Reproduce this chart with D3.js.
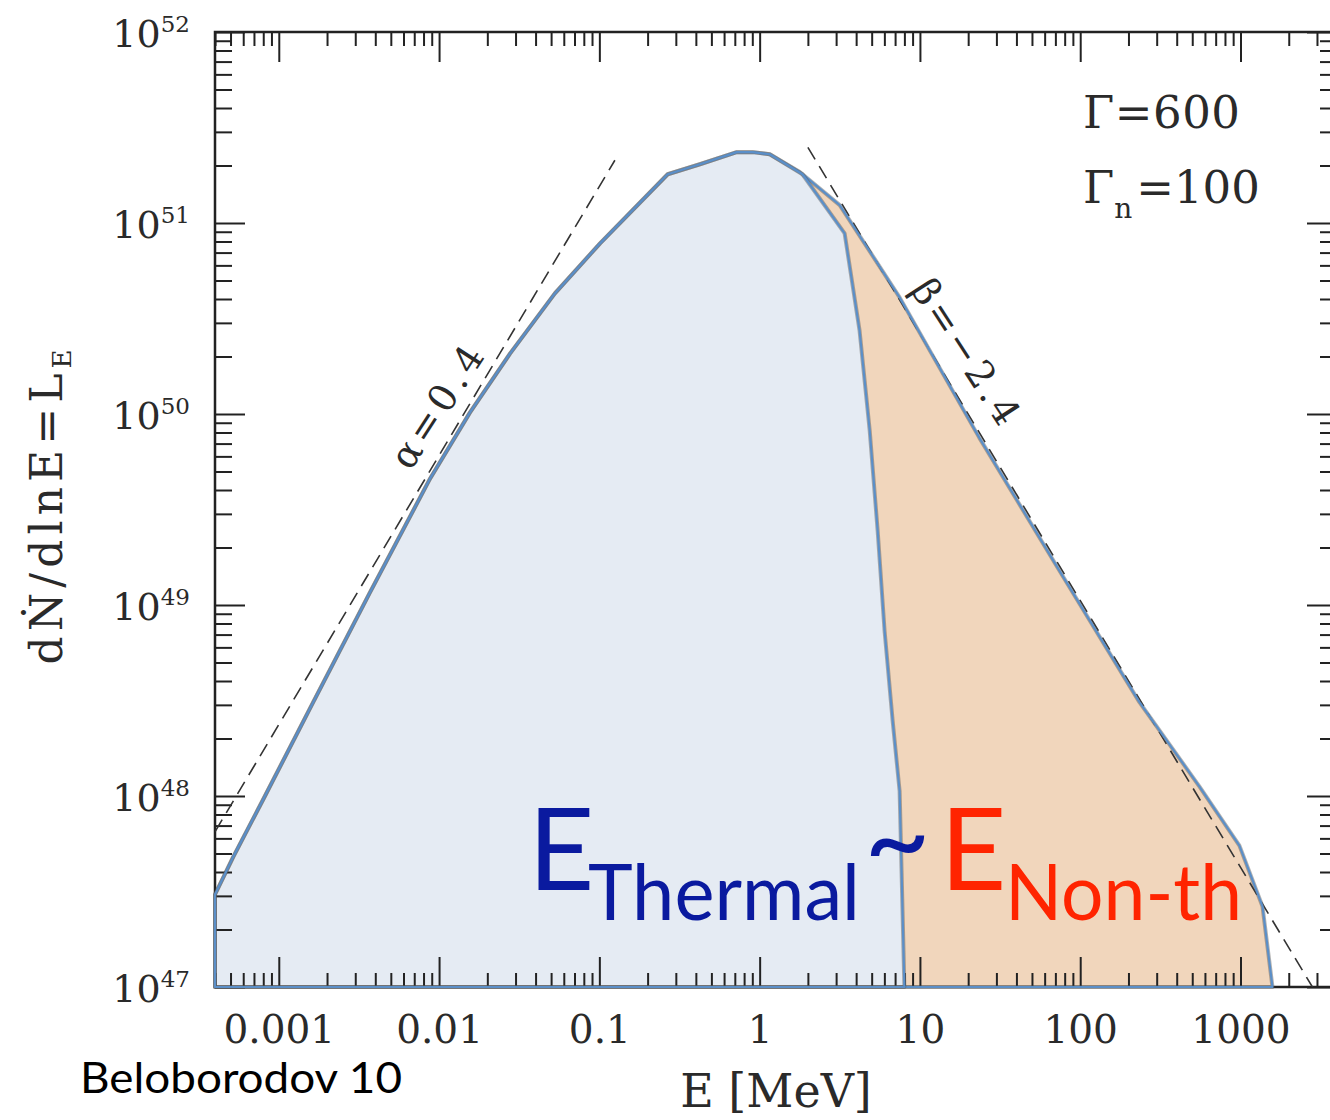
<!DOCTYPE html>
<html>
<head>
<meta charset="utf-8">
<script src="https://cdn.jsdelivr.net/npm/d3@7"></script>
<style>
  body { margin: 0; background: #fff; }
  svg { display: block; }
  .serif { font-family: "DejaVu Serif", serif; fill: #2a2a2a; }
  .sans { font-family: Lato, "Open Sans", sans-serif; }
</style>
</head>
<body>
<script>
// spectrum: E in MeV, L = dN/dlnE
const totalE = [4.0e-4, 5.2e-4, 8.2e-4, 1.64e-3, 3.7e-3, 8.8e-3, 0.0156, 0.0277, 0.0528, 0.1007, 0.267, 0.424, 0.72, 0.905, 1.156, 1.78, 3.16, 7.47, 23.5, 74.3, 234, 555, 985, 1372, 1583];
const totalL = [3.05e47, 4.8e47, 1.0e48, 3.1e48, 1.16e49, 4.6e49, 1.02e50, 2.07e50, 4.28e50, 7.8e50, 1.8e51, 2.03e51, 2.35e51, 2.35e51, 2.29e51, 1.85e51, 1.24e51, 4.08e50, 7.5e49, 1.51e49, 3.1e48, 1.12e48, 5.5e47, 2.64e47, 1.0e47];

const thermalE = [4.0e-4, 5.2e-4, 8.2e-4, 1.64e-3, 3.7e-3, 8.8e-3, 0.0156, 0.0277, 0.0528, 0.1007, 0.267, 0.424, 0.72, 0.905, 1.156, 1.85, 3.39, 4.2, 4.86, 5.45, 6.02, 6.76, 7.47, 8.0];
const thermalL = [3.05e47, 4.8e47, 1.0e48, 3.1e48, 1.16e49, 4.6e49, 1.02e50, 2.07e50, 4.28e50, 7.8e50, 1.8e51, 2.03e51, 2.35e51, 2.35e51, 2.29e51, 1.8e51, 8.83e50, 2.74e50, 8.2e49, 2.44e49, 7.3e48, 2.47e48, 1.06e48, 1.0e47];

// dashed asymptotes
const alphaE = [4.0e-4, 0.125];
const alphaL = [6.5e47, 2.13e51];
const betaE = [2.0, 2810];
const betaL = [2.49e51, 1.0e47];

// ticks
const xMajor = [0.001, 0.01, 0.1, 1, 10, 100, 1000];
const xLabels = ["0.001", "0.01", "0.1", "1", "10", "100", "1000"];
const yMajor = [1e47, 1e48, 1e49, 1e50, 1e51, 1e52];
const yExp = ["47", "48", "49", "50", "51", "52"];

const W = 1330, H = 1120;
const svg = d3.select("body").append("svg").attr("width", W).attr("height", H);

const x = d3.scaleLog().domain([4e-4, 4e3]).range([215, 1337]);
const y = d3.scaleLog().domain([1e47, 1e52]).range([987, 32]);

// minor tick values 2..9 x 10^n inside the domains
function minors(scale, lo, hi) {
  const out = [];
  const [d0, d1] = scale.domain();
  for (let n = lo; n <= hi; n++) {
    for (let k = 2; k <= 9; k++) {
      const v = k * Math.pow(10, n);
      if (v >= d0 * 0.999 && v <= d1 * 1.001) out.push(v);
    }
  }
  return out;
}
const xMinor = minors(x, -4, 3);
const yMinor = minors(y, 47, 51);

svg.append("clipPath").attr("id", "plot")
  .append("rect").attr("x", 215).attr("y", 32).attr("width", 1122).attr("height", 955);

const tot = totalE.map((e, i) => [e, totalL[i]]);
const th = thermalE.map((e, i) => [e, thermalL[i]]);

const area = d3.area()
  .x(d => x(d[0]))
  .y0(y(1e47))
  .y1(d => y(d[1]));
const line = d3.line()
  .x(d => x(d[0]))
  .y(d => y(d[1]));

// fills
svg.append("path").datum(tot).attr("d", area).attr("fill", "#f1d6bc");
svg.append("path").datum(th).attr("d", area).attr("fill", "#e5ebf3");

// axes, ticks inward
function styleAxis(g) {
  g.select(".domain").remove();
  g.selectAll("line").attr("stroke", "#222").attr("stroke-width", 2);
}
svg.append("g").attr("transform", "translate(0,987)")
  .call(d3.axisBottom(x).tickValues(xMinor).tickSize(-14).tickFormat("")).call(styleAxis);
svg.append("g").attr("transform", "translate(0,32)")
  .call(d3.axisTop(x).tickValues(xMinor).tickSize(-14).tickFormat("")).call(styleAxis);
svg.append("g").attr("transform", "translate(0,32)")
  .call(d3.axisTop(x).tickValues(xMajor).tickSize(-30).tickFormat("")).call(styleAxis);
const xb = svg.append("g").attr("transform", "translate(0,987)")
  .call(d3.axisBottom(x).tickValues(xMajor).tickSize(-30).tickPadding(28)
    .tickFormat((d, i) => xLabels[i]))
  .call(styleAxis);
xb.selectAll("text").attr("class", "serif").attr("font-size", 39)
  .attr("font-family", "DejaVu Serif").attr("fill", "#2a2a2a");

svg.append("g").attr("transform", "translate(215,0)")
  .call(d3.axisLeft(y).tickValues(yMinor).tickSize(-17).tickFormat("")).call(styleAxis);
svg.append("g").attr("transform", "translate(215,0)")
  .call(d3.axisLeft(y).tickValues(yMajor).tickSize(-30).tickFormat("")).call(styleAxis);
svg.append("g").attr("transform", "translate(1337,0)")
  .call(d3.axisRight(y).tickValues(yMinor).tickSize(-17).tickFormat("")).call(styleAxis);
svg.append("g").attr("transform", "translate(1337,0)")
  .call(d3.axisRight(y).tickValues(yMajor).tickSize(-30).tickFormat("")).call(styleAxis);

// frame
svg.append("rect").attr("x", 215).attr("y", 32).attr("width", 1122).attr("height", 955)
  .attr("fill", "none").attr("stroke", "#222").attr("stroke-width", 2.5);

// y tick labels 10^n
const yl = svg.append("g").selectAll("text").data(yMajor).enter().append("text")
  .attr("class", "serif")
  .attr("x", 190)
  .attr("y", d => y(d) + 15)
  .attr("text-anchor", "end")
  .attr("font-size", 38);
yl.append("tspan").text("10");
yl.append("tspan").attr("dy", -15).attr("font-size", 23).text((d, i) => yExp[i]);

// dashed asymptotes
const dashG = svg.append("g").attr("clip-path", "url(#plot)");
dashG.append("path").datum(alphaE.map((e, i) => [e, alphaL[i]])).attr("d", line)
  .attr("fill", "none").attr("stroke", "#333").attr("stroke-width", 1.6).attr("stroke-dasharray", "14,8");
dashG.append("path").datum(betaE.map((e, i) => [e, betaL[i]])).attr("d", line)
  .attr("fill", "none").attr("stroke", "#333").attr("stroke-width", 1.6).attr("stroke-dasharray", "14,8");

// outlines
[tot, th].forEach(d => {
  svg.append("path").datum(d).attr("d", area).attr("fill", "none")
    .attr("stroke", "#555").attr("stroke-opacity", 0.45).attr("stroke-width", 4).attr("stroke-linejoin", "round");
  svg.append("path").datum(d).attr("d", area).attr("fill", "none")
    .attr("stroke", "#5b8fc8").attr("stroke-width", 2.2).attr("stroke-linejoin", "round");
});

// line labels
svg.append("text").attr("class", "serif")
  .attr("transform", "translate(448,414) rotate(-57)")
  .attr("text-anchor", "middle").attr("font-size", 38)
  .attr("textLength", 138).attr("lengthAdjust", "spacing")
  .text("α=0.4");
svg.append("text").attr("class", "serif")
  .attr("transform", "translate(955,359) rotate(57)")
  .attr("text-anchor", "middle").attr("font-size", 38)
  .attr("textLength", 165).attr("lengthAdjust", "spacing")
  .text("β=−2.4");

// parameters
svg.append("text").attr("class", "serif").attr("x", 1083).attr("y", 128)
  .attr("font-size", 45).attr("textLength", 157).attr("lengthAdjust", "spacing").text("Γ=600");
const gn = svg.append("text").attr("class", "serif").attr("x", 1083).attr("y", 203).attr("font-size", 45);
gn.append("tspan").text("Γ");
gn.append("tspan").attr("dy", 15).attr("font-size", 28).text("n");
gn.append("tspan").attr("dy", -15).attr("dx", 4).text("=100");

// axis titles
svg.append("text").attr("class", "serif").attr("x", 776).attr("y", 1107)
  .attr("text-anchor", "middle").attr("font-size", 46).text("E [MeV]");
const yt = svg.append("text").attr("class", "serif")
  .attr("transform", "translate(62,507) rotate(-90)")
  .attr("text-anchor", "middle").attr("font-size", 44)
  .attr("textLength", 315).attr("lengthAdjust", "spacing");
yt.append("tspan").text("dṄ/dlnE=L");
yt.append("tspan").attr("dy", 9).attr("font-size", 26).text("E");

// slide annotations
const blue = "#0a1a9f", red = "#ff2400";
svg.append("text").attr("class", "sans").attr("x", 528).attr("y", 890)
  .attr("font-size", 115).attr("fill", blue).text("E");
svg.append("text").attr("class", "sans").attr("x", 864).attr("y", 880)
  .attr("font-size", 115).attr("fill", blue).text("~");
svg.append("text").attr("class", "sans").attr("x", 588).attr("y", 920)
  .attr("font-size", 77).attr("fill", blue)
  .attr("textLength", 272).attr("lengthAdjust", "spacingAndGlyphs").text("Thermal");
svg.append("text").attr("class", "sans").attr("x", 940).attr("y", 890)
  .attr("font-size", 115).attr("fill", red).text("E");
svg.append("text").attr("class", "sans").attr("x", 1005).attr("y", 920)
  .attr("font-size", 77).attr("fill", red)
  .attr("textLength", 237).attr("lengthAdjust", "spacingAndGlyphs").text("Non-th");
svg.append("text").attr("class", "sans").attr("x", 80).attr("y", 1093)
  .attr("font-size", 43).attr("fill", "#000")
  .attr("textLength", 322).attr("lengthAdjust", "spacingAndGlyphs").text("Beloborodov 10");
</script>
</body>
</html>
